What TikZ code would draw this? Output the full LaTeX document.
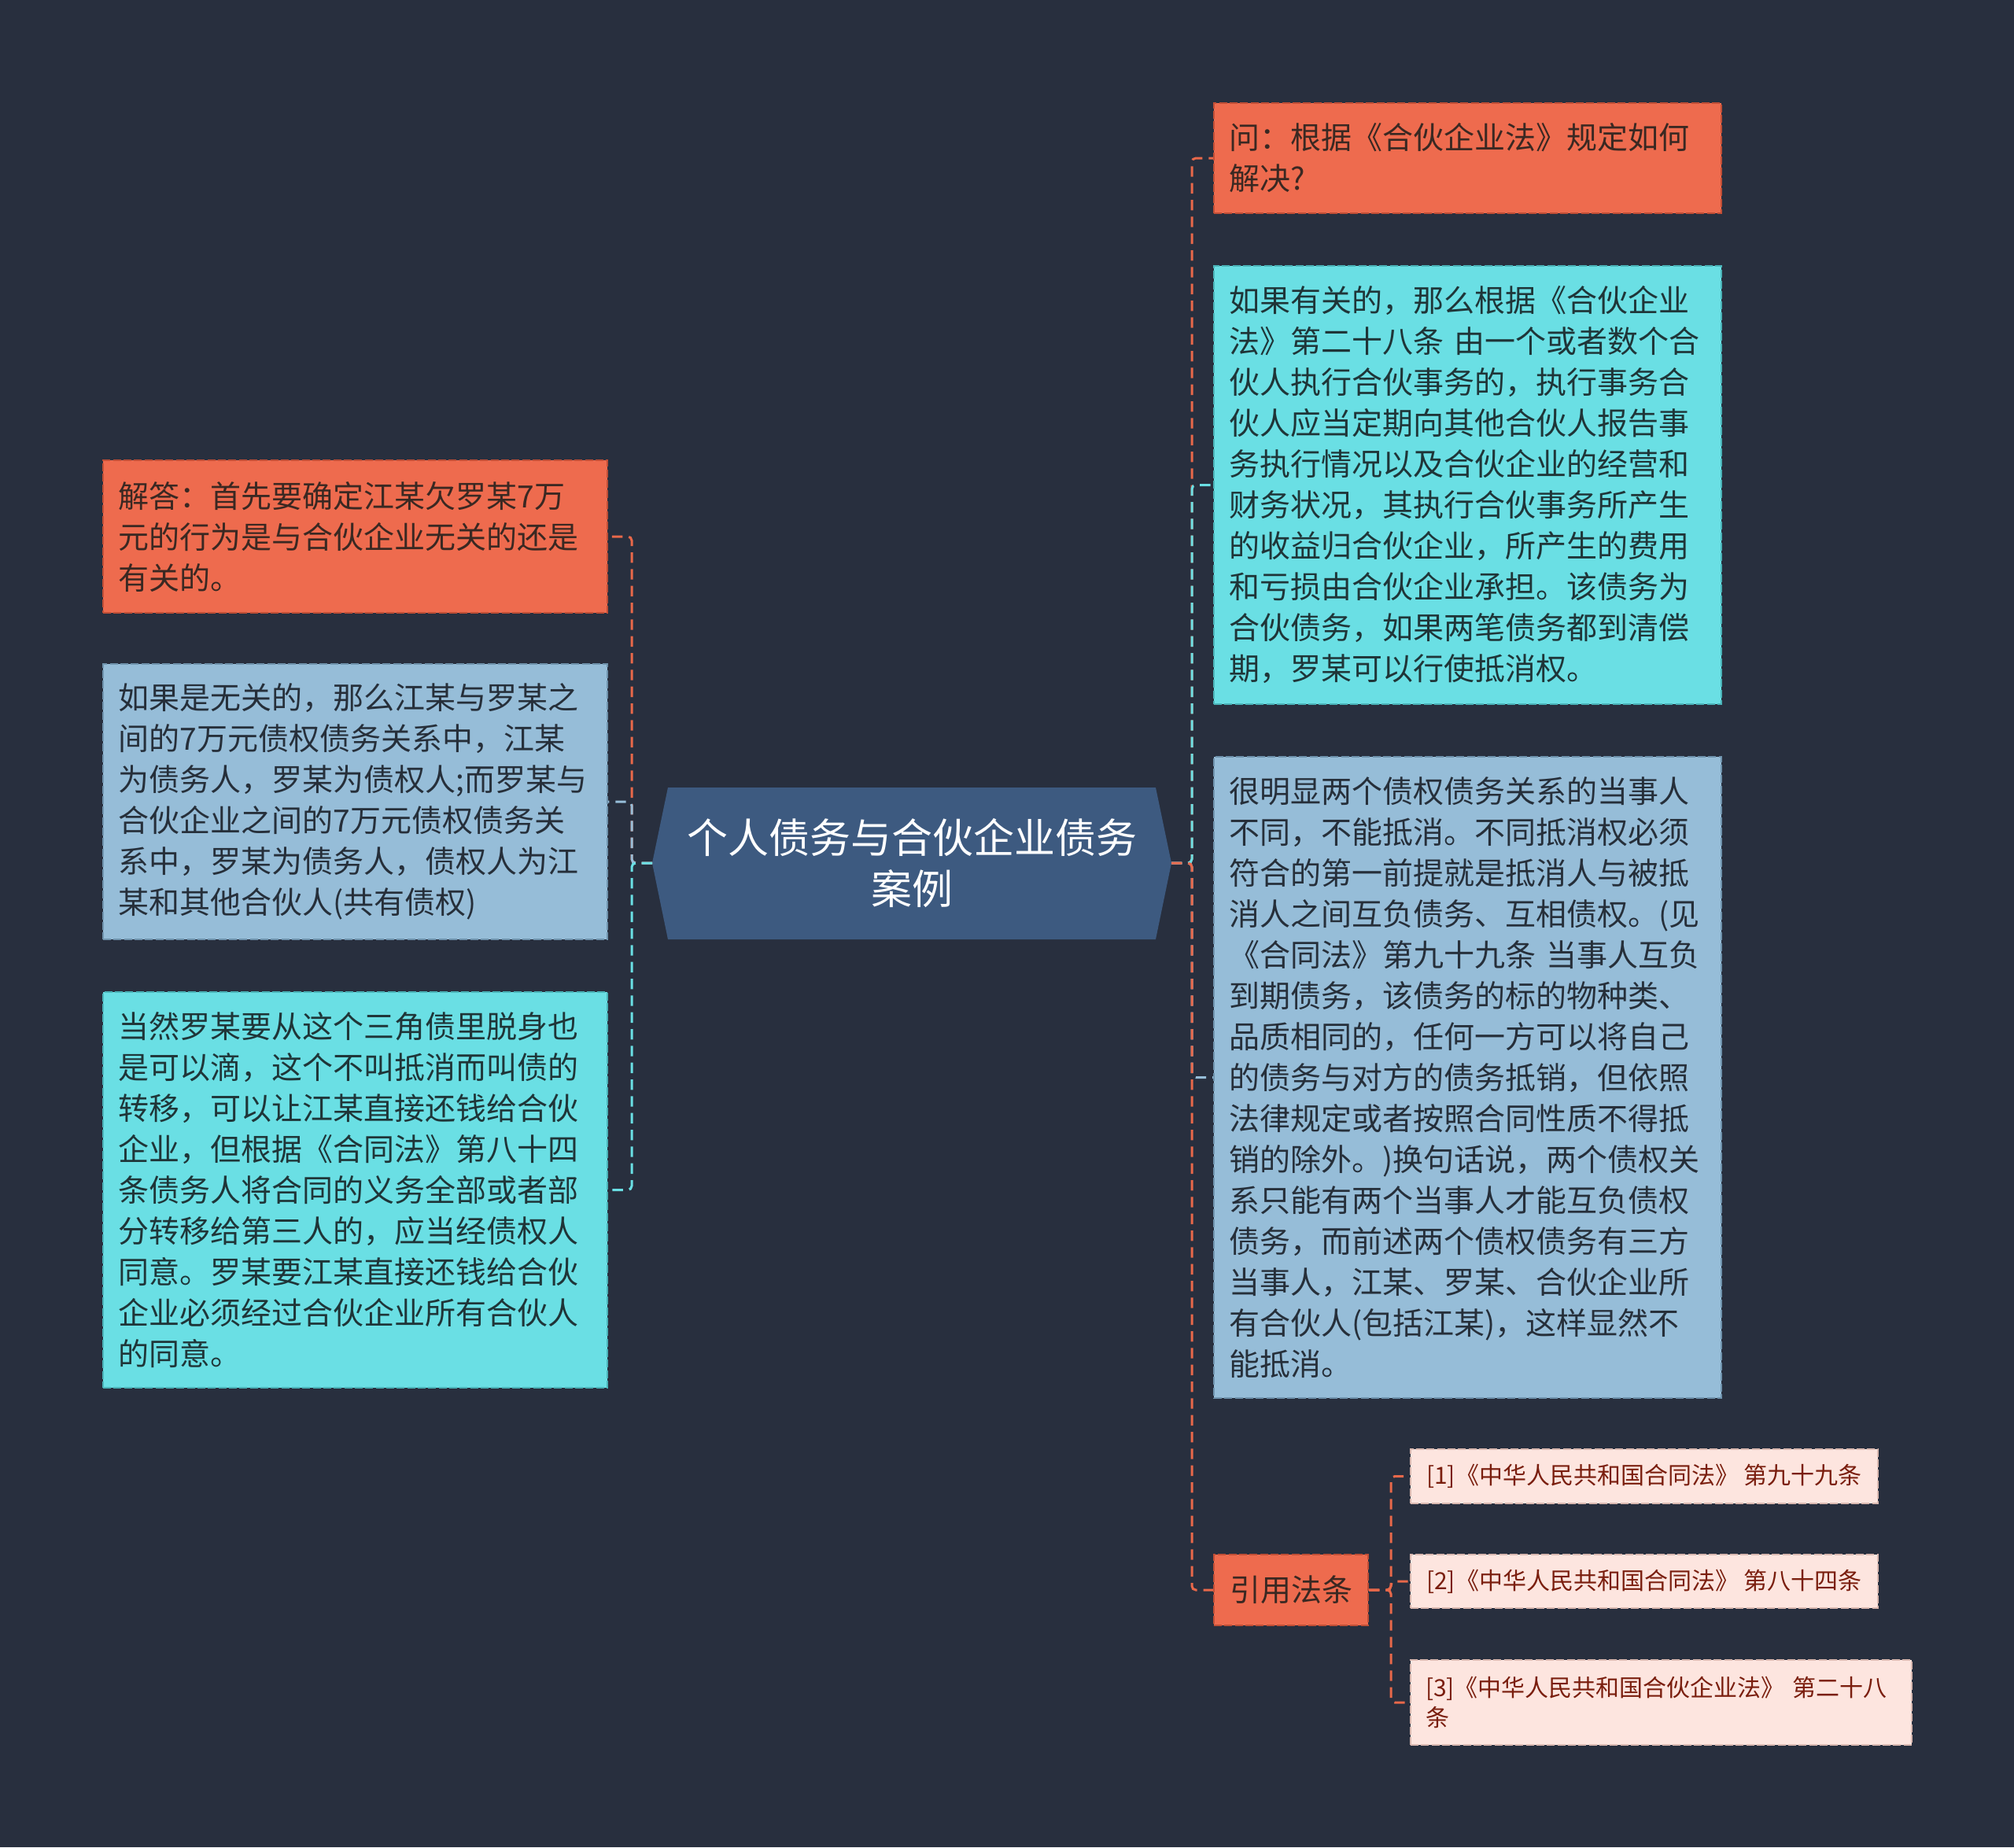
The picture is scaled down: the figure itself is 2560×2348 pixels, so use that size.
\documentclass[tikz,border=0pt]{standalone}
\usepackage{fontspec}
\setmainfont{Noto Sans CJK SC}
\usetikzlibrary{calc}
\definecolor{bg}{HTML}{282F3E}
\definecolor{orf}{HTML}{EE6B4E}
\definecolor{orb}{HTML}{C04E36}
\definecolor{ort}{HTML}{3A2822}
\definecolor{cyf}{HTML}{6ADFE4}
\definecolor{cyb}{HTML}{4AB3B8}
\definecolor{cyt}{HTML}{1F3538}
\definecolor{lbf}{HTML}{96BDD8}
\definecolor{lbb}{HTML}{6F93AD}
\definecolor{lbt}{HTML}{262F3A}
\definecolor{pkf}{HTML}{FDE5DF}
\definecolor{pkb}{HTML}{D9B8B0}
\definecolor{pkt}{HTML}{7A1E0E}
\definecolor{cen}{HTML}{3D5A80}
\definecolor{lor}{HTML}{E8684A}
\definecolor{lcy}{HTML}{6ADFE4}
\definecolor{llb}{HTML}{96BDD8}
\tikzset{
  boxbase/.style={rectangle, align=left, inner xsep=5.85pt, inner ysep=0pt,
    line width=0.6pt, dash pattern=on 3pt off 1pt,
    font=\fontsize{11.7pt}{15.6pt}\selectfont},
  orbox/.style={boxbase, fill=orf, draw=orb, text=ort},
  cybox/.style={boxbase, fill=cyf, draw=cyb, text=cyt},
  lbbox/.style={boxbase, fill=lbf, draw=lbb, text=lbt},
  pkbox/.style={boxbase, fill=pkf, draw=pkb, text=pkt, inner xsep=5.7pt,
    font=\fontsize{9pt}{11.4pt}\selectfont},
  conn/.style={line width=0.9pt, dash pattern=on 4pt off 2.4pt, rounded corners=1.5pt},
}
\begin{document}
\begin{tikzpicture}[x=0.3pt,y=-0.3pt]
\fill[bg] (0,0) rectangle (2560,2348);
\useasboundingbox (0,0) rectangle (2560,2348);

% central hexagon
\fill[cen] (829,1097) -- (849,1001) -- (1469,1001) -- (1489,1097) -- (1469,1194) -- (849,1194) -- cycle;
\coordinate (cL) at (829,1097);
\coordinate (cR) at (1489,1097);
\node[text=white, align=center, font=\fontsize{15.6pt}{19.6pt}\selectfont] (center) at (1159,1097) {个人债务与合伙企业债务\\案例};

% right nodes
\node[orbox, text width=606*0.3pt, minimum height=140*0.3pt] (n1) at (1865.5,201)
 {问：根据《合伙企业法》规定如何\\解决?};
\node[cybox, text width=606*0.3pt, minimum height=557*0.3pt] (n2) at (1865.5,616.5)
 {如果有关的，那么根据《合伙企业\\法》第二十八条 由一个或者数个合\\伙人执行合伙事务的，执行事务合\\伙人应当定期向其他合伙人报告事\\务执行情况以及合伙企业的经营和\\财务状况，其执行合伙事务所产生\\的收益归合伙企业，所产生的费用\\和亏损由合伙企业承担。该债务为\\合伙债务，如果两笔债务都到清偿\\期，罗某可以行使抵消权。};
\node[lbbox, text width=606*0.3pt, minimum height=815*0.3pt] (n3) at (1865.5,1369.5)
 {很明显两个债权债务关系的当事人\\不同，不能抵消。不同抵消权必须\\符合的第一前提就是抵消人与被抵\\消人之间互负债务、互相债权。(见\\《合同法》第九十九条 当事人互负\\到期债务，该债务的标的物种类、\\品质相同的，任何一方可以将自己\\的债务与对方的债务抵销，但依照\\法律规定或者按照合同性质不得抵\\销的除外。)换句话说，两个债权关\\系只能有两个当事人才能互负债权\\债务，而前述两个债权债务有三方\\当事人，江某、罗某、合伙企业所\\有合伙人(包括江某)，这样显然不\\能抵消。};
\node[orbox, minimum width=196*0.3pt, minimum height=90*0.3pt] (n4) at (1641,2021) {引用法条};

% references
\node[pkbox, minimum width=594*0.3pt, minimum height=69*0.3pt] (r1) at (2090,1876.5)
 {[1]《中华人民共和国合同法》 第九十九条};
\node[pkbox, minimum width=594*0.3pt, minimum height=68*0.3pt] (r2) at (2090,2010)
 {[2]《中华人民共和国合同法》 第八十四条};
\node[pkbox, text width=599*0.3pt, minimum height=108*0.3pt] (r3) at (2111.5,2164)
 {[3]《中华人民共和国合伙企业法》 第二十八\\条};

% left nodes
\node[orbox, text width=602*0.3pt, minimum height=194*0.3pt] (l1) at (451.5,682)
 {解答：首先要确定江某欠罗某7万\\元的行为是与合伙企业无关的还是\\有关的。};
\node[lbbox, text width=602*0.3pt, minimum height=350*0.3pt] (l2) at (451.5,1019)
 {如果是无关的，那么江某与罗某之\\间的7万元债权债务关系中，江某\\为债务人，罗某为债权人;而罗某与\\合伙企业之间的7万元债权债务关\\系中，罗某为债务人，债权人为江\\某和其他合伙人(共有债权)};
\node[cybox, text width=602*0.3pt, minimum height=503*0.3pt] (l3) at (451.5,1512.5)
 {当然罗某要从这个三角债里脱身也\\是可以滴，这个不叫抵消而叫债的\\转移，可以让江某直接还钱给合伙\\企业，但根据《合同法》第八十四\\条债务人将合同的义务全部或者部\\分转移给第三人的，应当经债权人\\同意。罗某要江某直接还钱给合伙\\企业必须经过合伙企业所有合伙人\\的同意。};

% junctions
\coordinate (rj) at (1515,1097);
\coordinate (lj) at (803,1097);
\coordinate (fj) at (1768,2021);

% right connectors
\draw[conn, lor] (cR) -- (rj) |- (n1.west);
\draw[conn, lcy] (cR) -- (rj) |- (n2.west);
\draw[conn, llb] (cR) -- (rj) |- (n3.west);
\draw[conn, lor] (cR) -- (rj) |- (n4.west);

% left connectors
\draw[conn, lor] (cL) -- (lj) |- (l1.east);
\draw[conn, llb] (cL) -- (lj) |- (l2.east);
\draw[conn, lcy] (cL) -- (lj) |- (l3.east);

% reference connectors
\draw[conn, lor] (n4.east) -- (fj) |- (r1.west);
\draw[conn, lor] (n4.east) -- (fj) |- (r2.west);
\draw[conn, lor] (n4.east) -- (fj) |- (r3.west);
\end{tikzpicture}
\end{document}
